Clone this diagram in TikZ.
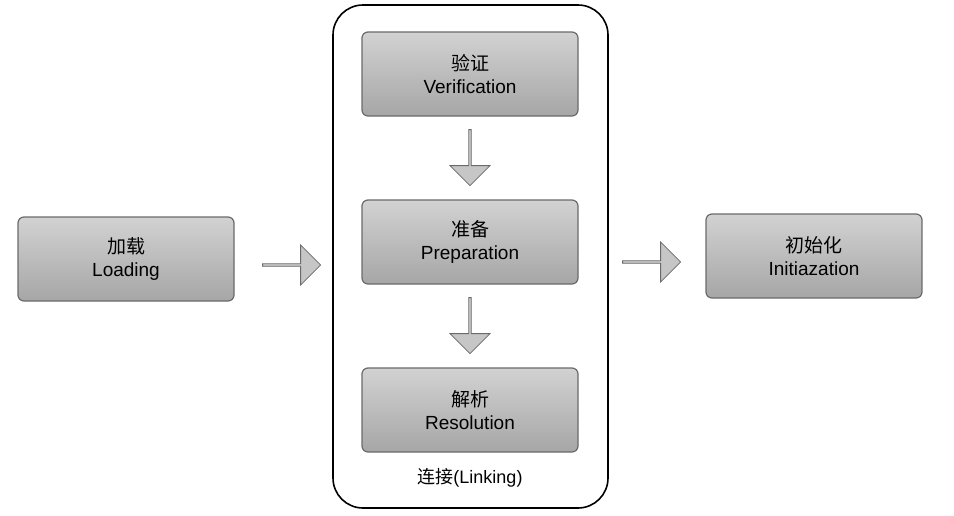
\documentclass[tikz,border=0pt]{standalone}
\usepackage{fontspec}
\setmainfont{Liberation Sans}
\newfontfamily\cjk{Noto Sans CJK SC}
\usetikzlibrary{shapes.arrows,shadows}
\definecolor{boxtop}{HTML}{D2D2D2}
\definecolor{boxbot}{HTML}{A6A6A6}
\definecolor{edge}{HTML}{6A6A6A}
\tikzset{
 stage/.style={draw=edge,line width=1.2pt,rounded corners=6pt,top color=boxtop,bottom color=boxbot,
   minimum width=216pt,minimum height=84pt,align=center,font=\fontsize{19}{23}\selectfont,text=black},
 blk/.style={single arrow,draw=edge,line width=0.8pt,fill=boxtop!85!gray,minimum height=58pt,
   minimum width=40pt,single arrow head extend=6pt,inner sep=0pt}
}
\begin{document}
\begin{tikzpicture}[x=1pt,y=-1pt]
\useasboundingbox (0,0) rectangle (954,515);
\draw[line width=1.6pt,rounded corners=30pt] (333,5) rectangle (608,508);
\node[stage] (load) at (126,259) {{\cjk 加载}\\Loading};
\node[stage] (ver) at (470,74) {{\cjk 验证}\\Verification};
\node[stage] (prep) at (470,242) {{\cjk 准备}\\Preparation};
\node[stage] (res) at (470,410) {{\cjk 解析}\\Resolution};
\node[stage] (init) at (814,256) {{\cjk 初始化}\\Initiazation};
\node[font=\fontsize{18}{22}\selectfont] (lnk) at (470,478) {{\cjk 连接}(Linking)};
\node[blk] (a1) at (291,265) {};
\node[blk] (a2) at (651,262) {};
\node[blk,shape border rotate=270,minimum height=56pt] (a3) at (470,157) {};
\node[blk,shape border rotate=270,minimum height=56pt] (a4) at (470,325) {};
\end{tikzpicture}
\end{document}
